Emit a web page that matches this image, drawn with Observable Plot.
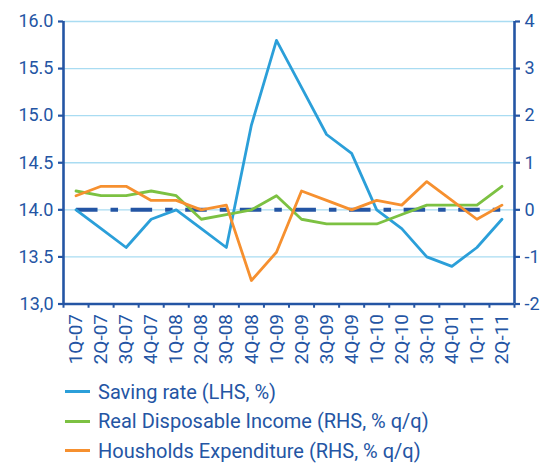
<!DOCTYPE html>
<html>
<head>
<meta charset="utf-8">
<script src="https://cdn.jsdelivr.net/npm/d3@7"></script>
<script src="https://cdn.jsdelivr.net/npm/@observablehq/plot@0.6"></script>
<style>
  html, body { margin: 0; padding: 0; background: #fff; }
  #wrap { position: relative; width: 555px; height: 463px; font-family: Roboto, "Open Sans", sans-serif; }
  #legend { position: absolute; left: 65px; top: 377px; }
  .row { display: flex; align-items: center; height: 29.5px; }
  .sw { width: 25px; height: 3px; margin-right: 8px; }
  .lbl { font-size: 20px; color: #2455a4; white-space: nowrap; }
</style>
</head>
<body>
<div id="wrap"><div id="chart"></div><div id="legend"></div></div>
<script>
const quarters = ["1Q-07","2Q-07","3Q-07","4Q-07","1Q-08","2Q-08","3Q-08","4Q-08","1Q-09","2Q-09","3Q-09","4Q-09","1Q-10","2Q-10","3Q-10","4Q-01","1Q-11","2Q-11"];
// Saving rate, LHS, %
const savingRate = [14.0,13.8,13.6,13.9,14.0,13.8,13.6,14.9,15.8,15.3,14.8,14.6,14.0,13.8,13.5,13.4,13.6,13.9];
// Real Disposable Income, RHS, % q/q
const realIncome = [0.4,0.3,0.3,0.4,0.3,-0.2,-0.1,0.0,0.3,-0.2,-0.3,-0.3,-0.3,-0.1,0.1,0.1,0.1,0.5];
// Households Expenditure, RHS, % q/q
const expenditure = [0.3,0.5,0.5,0.2,0.2,0.0,0.1,-1.5,-0.9,0.4,0.2,0.0,0.2,0.1,0.6,0.2,-0.2,0.1];
const zeroRef = quarters.map(() => 0);
const leftTicks = [13.0,13.5,14.0,14.5,15.0,15.5,16.0];
const rightTicks = [-2,-1,0,1,2,3,4];

const seriesNames = ["Saving rate (LHS, %)","Real Disposable Income (RHS, % q/q)","Housholds Expenditure (RHS, % q/q)"];
const colors = ["#2b9fd9","#7cc142","#f6902f"];
const axisColor = "#2455a4";
const gridColor = "#a9dcf2";

// RHS values mapped onto the LHS scale: 0 on RHS = 14 on LHS, 1 RHS unit = 0.5 LHS
const rhs = r => 14 + r / 2;

const W = 555, H = 377, mL = 63, mR = 41, mT = 21, mB = 73.5;
const bw = (W - mL - mR) / quarters.length;

const sav = quarters.map((q, i) => ({q, v: savingRate[i]}));
const inc = quarters.map((q, i) => ({q, v: rhs(realIncome[i])}));
const exp = quarters.map((q, i) => ({q, v: rhs(expenditure[i])}));
const zer = quarters.map((q, i) => ({q, v: rhs(zeroRef[i])}));

const chart = Plot.plot({
  width: W, height: H,
  marginLeft: mL, marginRight: mR, marginTop: mT, marginBottom: mB,
  x: {type: "band", domain: quarters, padding: 0, round: false, axis: null, label: null},
  y: {domain: [13, 16], axis: null, label: null},
  style: {fontFamily: "Roboto, 'Open Sans', sans-serif", background: "#fff", overflow: "visible"},
  marks: [
    Plot.gridY(leftTicks.filter(v => v > 13), {stroke: gridColor, strokeOpacity: 1, strokeWidth: 1.3}),
    Plot.line(zer, {x: "q", y: "v", stroke: axisColor, strokeWidth: 4, strokeLinecap: "butt", strokeDasharray: "21.5,13,7.5,12.6"}),
    Plot.line(sav, {x: "q", y: "v", stroke: colors[0], strokeWidth: 2.8}),
    Plot.line(inc, {x: "q", y: "v", stroke: colors[1], strokeWidth: 2.8}),
    Plot.line(exp, {x: "q", y: "v", stroke: colors[2], strokeWidth: 2.8}),
    // axis lines
    Plot.ruleY([13], {stroke: axisColor, strokeWidth: 2.6}),
    Plot.ruleX([quarters[0]], {dx: -bw / 2, y1: 13, y2: 16, stroke: axisColor, strokeWidth: 2.6}),
    Plot.ruleX([quarters[quarters.length - 1]], {dx: bw / 2, y1: 13, y2: 16, stroke: axisColor, strokeWidth: 2.6}),
    // category boundary ticks
    Plot.ruleX(quarters, {dx: -bw / 2, y1: 13, y2: 12.955, stroke: axisColor, strokeWidth: 2}),
    Plot.ruleX([quarters[quarters.length - 1]], {dx: bw / 2, y1: 13, y2: 12.955, stroke: axisColor, strokeWidth: 2}),
    // left axis
    Plot.axisY(leftTicks, {anchor: "left", label: null, tickSize: 5, tickPadding: 5, stroke: axisColor, strokeWidth: 2.2, fill: axisColor, fontSize: 18,
      tickFormat: v => v === 13 ? "13,0" : v.toFixed(1)}),
    // right axis
    Plot.axisY(rightTicks.map(rhs), {anchor: "right", label: null, tickSize: 5, tickPadding: 5, stroke: axisColor, strokeWidth: 2.2, fill: axisColor, fontSize: 18,
      tickFormat: v => String(Math.round((v - 14) * 2))}),
    // category labels
    Plot.axisX(quarters, {anchor: "bottom", label: null, tickSize: 0, tickPadding: 10, tickRotate: -90, fill: axisColor, fontSize: 19})
  ]
});
document.getElementById("chart").appendChild(chart);

const legend = document.getElementById("legend");
seriesNames.forEach((name, i) => {
  const row = document.createElement("div");
  row.className = "row";
  row.innerHTML = `<span class="sw" style="background:${colors[i]}"></span><span class="lbl">${name}</span>`;
  legend.appendChild(row);
});
</script>
</body>
</html>
